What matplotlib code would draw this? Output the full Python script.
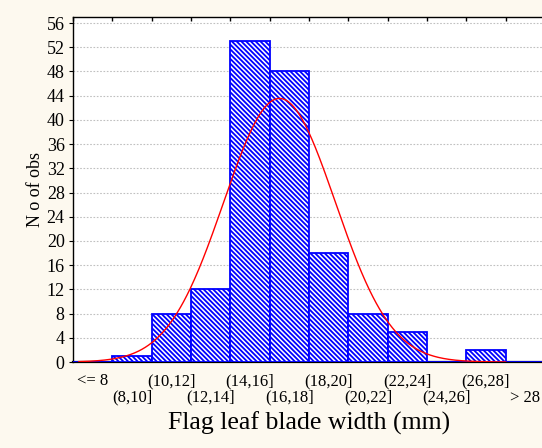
import numpy as np
import matplotlib
matplotlib.use("Agg")
import matplotlib.pyplot as plt

categories = ["<= 8", "(8,10]", "(10,12]", "(12,14]", "(14,16]", "(16,18]",
              "(18,20]", "(20,22]", "(22,24]", "(24,26]", "(26,28]", "> 28"]
counts = [0, 1, 8, 12, 53, 48, 18, 8, 5, 0, 2, 0]
bin_lower = 8.0   # lower edge (mm) of second class
bin_width = 2.0   # mm
fit_mean = 16.5   # normal fit (mm)
fit_sd = 2.84
yticks = list(range(0, 57, 4))

plt.rcParams['font.family'] = ['Liberation Serif', 'DejaVu Serif']
plt.rcParams['hatch.linewidth'] = 1.3

fig = plt.figure(figsize=(5.42, 4.48), dpi=100, facecolor='#fdf9ef')
ax = fig.add_axes([73/542, 86/448, 472/542, 345/448])
ax.set_facecolor('white')

x = np.arange(len(categories))
ax.bar(x, counts, width=1.0, facecolor='white', edgecolor='#0000ff',
       hatch='\\' * 7, linewidth=1.3, zorder=3)

# normal curve, mm -> category index
mm = np.linspace(6.3, 28.0, 400)
n_total = sum(counts)
yfit = n_total * bin_width / (fit_sd * np.sqrt(2 * np.pi)) * np.exp(-0.5 * ((mm - fit_mean) / fit_sd) ** 2)
xi = (mm - bin_lower) / bin_width + 1.0 - 0.5
ax.plot(xi, yfit, color='red', lw=1.0, zorder=4)

ax.set_xlim(-0.5, len(categories) - 0.5)
ax.set_ylim(0, 57)
ax.set_yticks(yticks)
ax.set_yticklabels([str(v) for v in yticks], fontsize=13)
ax.yaxis.grid(True, color='#c0c0c0', linestyle=(0, (1.5, 1.5)), linewidth=0.8, zorder=0)
ax.set_axisbelow(True)

ax.set_xticks(x)
ax.set_xticklabels(categories, fontsize=12)
ax.tick_params(axis='x', which='major', length=0)
for i, t in enumerate(ax.xaxis.get_major_ticks()):
    t.set_pad(8 if i % 2 == 0 else 20)
ax.set_xticks(np.arange(len(categories) + 1) - 0.5, minor=True)
ax.tick_params(axis='x', which='minor', top=True, bottom=False, direction='in', length=3, width=1)
ax.tick_params(axis='y', direction='out', length=3, width=0.8, pad=3)

for s in ['left', 'top']:
    ax.spines[s].set_linewidth(1.0)
    ax.spines[s].set_color('black')
ax.spines['bottom'].set_linewidth(1.6)
ax.spines['right'].set_visible(False)

ax.set_xlabel("Flag leaf blade width (mm)", fontsize=18.5, labelpad=4)
ax.set_ylabel("N o of obs", fontsize=13, labelpad=2)

fig.savefig("out.png", dpi=100, facecolor=fig.get_facecolor())
